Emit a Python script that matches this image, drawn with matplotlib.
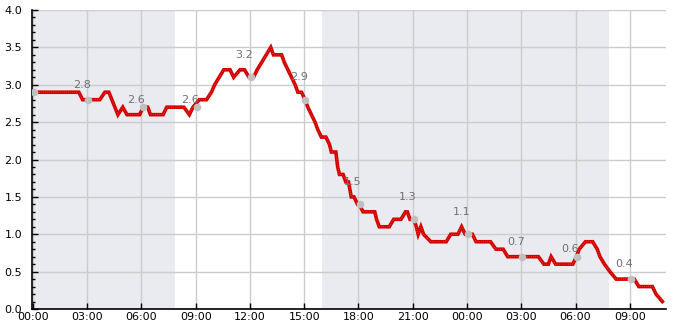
import numpy as np
import matplotlib
matplotlib.use("Agg")
import matplotlib.pyplot as plt

# hours since 00:00 on day one, value
hours = [0, 2.54, 2.75, 3.7, 3.98, 4.2, 4.7, 4.97, 5.2, 5.9, 6.1, 6.35, 6.5, 7.2, 7.4,
         8.35, 8.65, 8.85, 9.2, 9.6, 9.87, 10.05, 10.3, 10.55, 10.9, 11.1, 11.45, 11.7,
         11.95, 12.2, 12.4, 12.65, 12.9, 13.15, 13.3, 13.75, 13.9, 14.1, 14.3, 14.5,
         14.65, 14.85, 15.05, 15.2, 15.4, 15.6, 15.75, 15.95, 16.2, 16.4, 16.5, 16.75,
         16.85, 16.95, 17.15, 17.3, 17.45, 17.6, 17.75, 17.95, 18.05, 18.25, 18.9, 19.0,
         19.15, 19.7, 19.95, 20.35, 20.6, 20.7, 20.85, 21.05, 21.2, 21.3, 21.45, 21.6,
         22.0, 22.85, 23.1, 23.5, 23.7, 23.9, 24.3, 24.5, 25.3, 25.6, 26.0, 26.25, 27.95,
         28.25, 28.5, 28.65, 28.9, 29.85, 30.05, 30.2, 30.55, 30.95, 31.2, 31.35, 31.6,
         31.9, 32.25, 33.25, 33.5, 34.25, 34.45, 34.8]
values = [2.9, 2.9, 2.8, 2.8, 2.9, 2.9, 2.6, 2.7, 2.6, 2.6, 2.7, 2.7, 2.6, 2.6, 2.7,
          2.7, 2.6, 2.7, 2.8, 2.8, 2.9, 3.0, 3.1, 3.2, 3.2, 3.1, 3.2, 3.2,
          3.1, 3.1, 3.2, 3.3, 3.4, 3.5, 3.4, 3.4, 3.3, 3.2, 3.1, 3.0,
          2.9, 2.9, 2.8, 2.7, 2.6, 2.5, 2.4, 2.3, 2.3, 2.2, 2.1, 2.1,
          1.9, 1.8, 1.8, 1.7, 1.7, 1.5, 1.5, 1.4, 1.4, 1.3, 1.3, 1.2,
          1.1, 1.1, 1.2, 1.2, 1.3, 1.3, 1.2, 1.2, 1.1, 1.0, 1.1, 1.0,
          0.9, 0.9, 1.0, 1.0, 1.1, 1.0, 1.0, 0.9, 0.9, 0.8, 0.8, 0.7, 0.7,
          0.6, 0.6, 0.7, 0.6, 0.6, 0.7, 0.8, 0.9, 0.9, 0.8, 0.7, 0.6,
          0.5, 0.4, 0.4, 0.3, 0.3, 0.2, 0.1]

# 3-hourly marker points and their labels
mark_hours = [0, 3, 6, 9, 12, 15, 18, 21, 24, 27, 30, 33]
mark_values = [2.9, 2.8, 2.7, 2.7, 3.1, 2.8, 1.4, 1.2, 1.0, 0.7, 0.7, 0.4]
mark_labels = ["", "2.8", "2.6", "2.6", "3.2", "2.9", "1.5", "1.3", "1.1", "0.7", "0.6", "0.4"]

# night bands (hours)
night_start = [0, 16]
night_end = [7.85, 31.85]

tick_hours = [0, 3, 6, 9, 12, 15, 18, 21, 24, 27, 30, 33]
tick_labels = ["00:00", "03:00", "06:00", "09:00", "12:00", "15:00", "18:00",
               "21:00", "00:00", "03:00", "06:00", "09:00"]

fig = plt.figure(figsize=(6.85, 3.3), dpi=100)
ax = fig.add_axes([0.0467, 0.0636, 0.9255, 0.9061])

for s, e in zip(night_start, night_end):
    ax.axvspan(s, e, color="#eaebf0", zorder=0, lw=0)

ax.grid(True, color="#cccccc", lw=1, zorder=1)
ax.set_axisbelow(True)

# thick red trace, with a faint dotted core for the point-by-point look
ax.plot(hours, values, color="#d40000", lw=2.6, zorder=3, solid_joinstyle="miter")
ax.plot(hours, values, color="#f5c8c8", lw=0.5, ls=(0, (0.5, 2.5)), zorder=4)

ax.scatter([h + 0.06 for h in mark_hours], mark_values, s=30, color="#c0c0c0",
           zorder=5, lw=0)
for h, v, lab in zip(mark_hours, mark_values, mark_labels):
    if lab:
        ax.text(h - 0.3, float(lab) + 0.2, lab, ha="center", va="center",
                fontsize=8, color="#707070", zorder=6)

ax.set_xlim(-0.05, 35.0)
ax.set_ylim(0, 4.0)
ax.set_xticks(tick_hours)
ax.set_xticklabels(tick_labels)
ax.set_yticks(np.arange(0, 4.01, 0.5))
ax.set_yticks(np.arange(0, 4.01, 0.1), minor=True)
ax.set_yticklabels(["%.1f" % v for v in np.arange(0, 4.01, 0.5)])

for side in ["top", "right"]:
    ax.spines[side].set_visible(False)
for side in ["left", "bottom"]:
    ax.spines[side].set_color("black")
    ax.spines[side].set_linewidth(1.2)

ax.tick_params(axis="both", which="major", direction="in", length=4, width=1,
               labelsize=8, colors="black")
ax.tick_params(axis="y", which="minor", direction="in", length=2.5, width=1)
ax.tick_params(axis="y", which="major", pad=7)
ax.tick_params(axis="x", which="major", pad=2)

fig.savefig("out.png", dpi=100)
